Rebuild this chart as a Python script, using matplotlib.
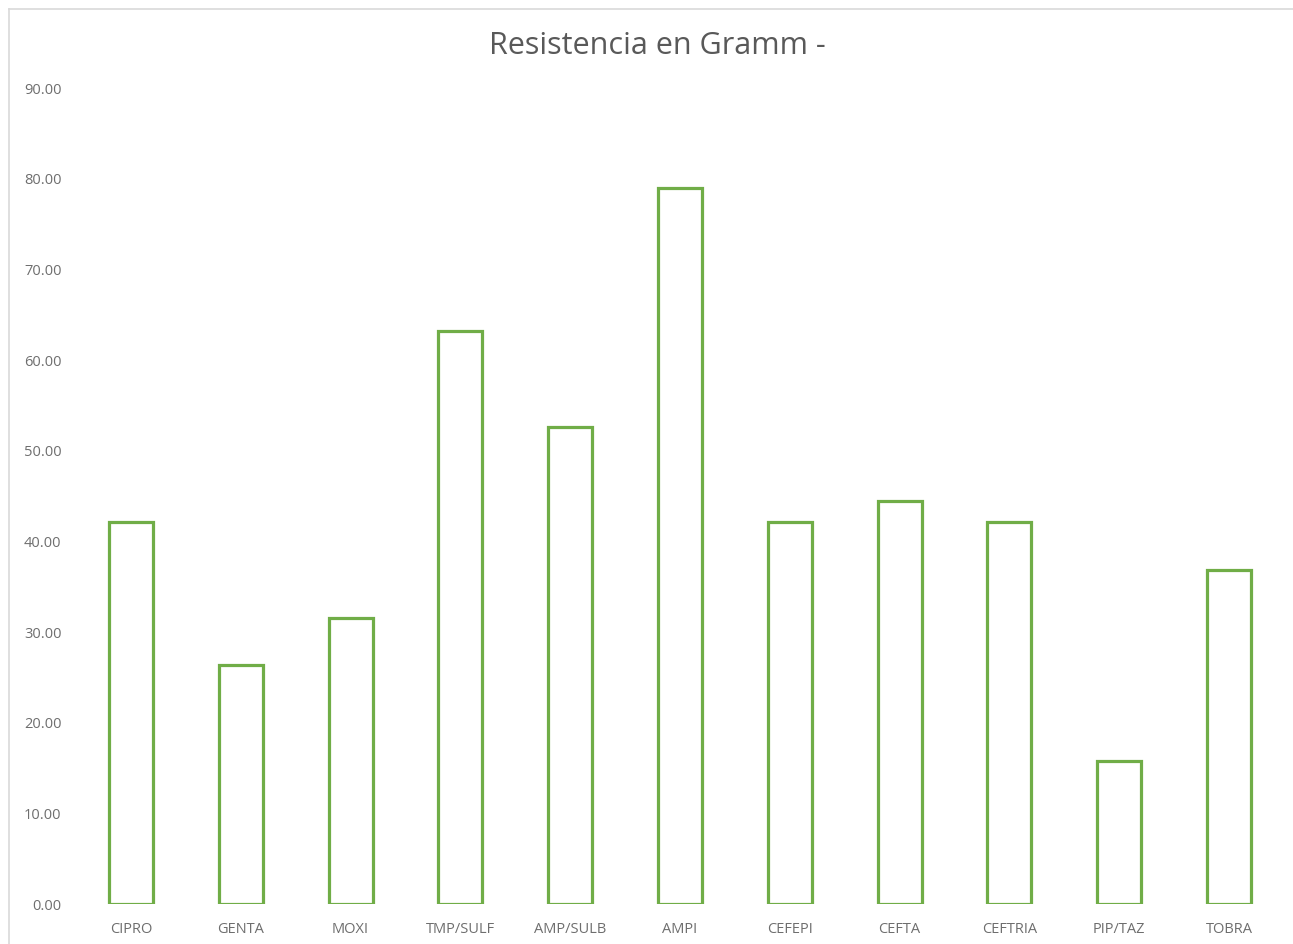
import matplotlib
matplotlib.use("Agg")
import matplotlib.pyplot as plt
from matplotlib.lines import Line2D

categories = ["CIPRO", "GENTA", "MOXI", "TMP/SULF", "AMP/SULB", "AMPI",
              "CEFEPI", "CEFTA", "CEFTRIA", "PIP/TAZ", "TOBRA"]
values = [42.11, 26.32, 31.58, 63.16, 52.63, 78.95, 42.11, 44.44, 42.11, 15.79, 36.84]
yticks = [0, 10, 20, 30, 40, 50, 60, 70, 80, 90]
title = "Resistencia en Gramm -"

plt.rcParams['font.family'] = ['Open Sans', 'DejaVu Sans']

fig = plt.figure(figsize=(12.93, 9.44), dpi=100)
ax = fig.add_axes([76/1293, 40/944, (1284-76)/1293, (904-88)/944])

x = range(len(categories))
ax.bar(x, values, width=0.4, facecolor='none', edgecolor='#70AD47', linewidth=2.3)
ax.set_xlim(-0.5, len(categories) - 0.5)
ax.set_ylim(0, 90)
ax.set_yticks(yticks)
ax.set_yticklabels([f"{v:.2f}" for v in yticks])
ax.set_xticks(list(x))
ax.set_xticklabels(categories)
ax.tick_params(axis='both', length=0, labelsize=10.5, colors='#6E6E6E')
ax.tick_params(axis='y', pad=10.5)
ax.tick_params(axis='x', pad=13)
for s in ax.spines.values():
    s.set_visible(False)

fig.text(657/1293, 1 - 46/944, title, ha='center', va='center', fontsize=22, color='#595959')

# chart border (top and left visible)
fig.add_artist(Line2D([9/1293, 1], [1 - 9/944, 1 - 9/944], color='#D9D9D9', linewidth=1.2, transform=fig.transFigure))
fig.add_artist(Line2D([9/1293, 9/1293], [0, 1 - 9/944], color='#D9D9D9', linewidth=1.2, transform=fig.transFigure))

fig.savefig("out.png", dpi=100)
